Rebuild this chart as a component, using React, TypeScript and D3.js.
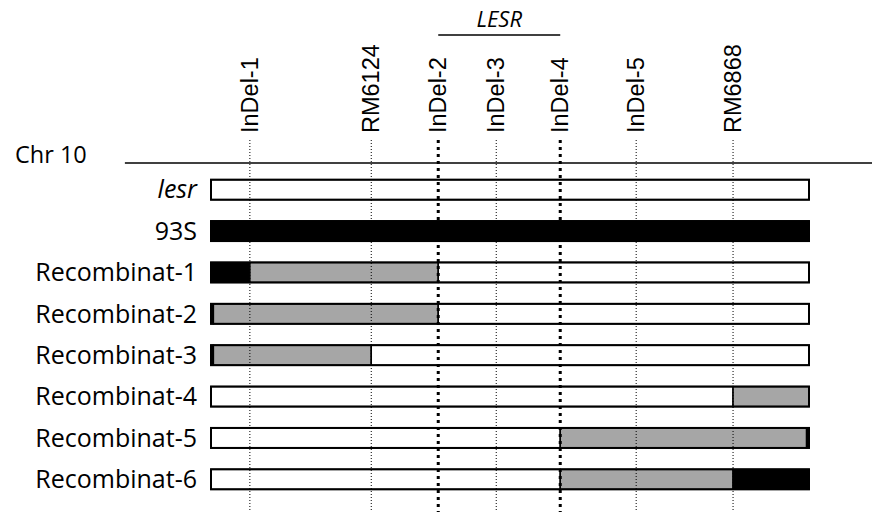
import React from "react";
import * as d3 from "d3";

const markers = ["InDel-1", "RM6124", "InDel-2", "InDel-3", "InDel-4", "InDel-5", "RM6868"];
const markerPos = [6.5, 26.8, 38.0, 47.7, 58.4, 71.1, 87.3];
const boldMarkers = ["InDel-2", "InDel-4"];
const rows = ["lesr", "93S", "Recombinat-1", "Recombinat-2", "Recombinat-3", "Recombinat-4", "Recombinat-5", "Recombinat-6"];
// segment starts per row (chromosome units) and genotype: w = lesr, b = 93S, g = heterozygous
const segStarts = [
  [0],
  [0],
  [0, 6.5, 38.0],
  [0, 0.4, 38.0],
  [0, 0.4, 26.8],
  [0, 87.3],
  [0, 58.4, 99.6],
  [0, 58.4, 87.3],
];
const segTypes = [
  ["w"],
  ["b"],
  ["b", "g", "w"],
  ["b", "g", "w"],
  ["b", "g", "w"],
  ["w", "g"],
  ["w", "g", "b"],
  ["w", "g", "b"],
];
const lesrRegion = ["InDel-2", "InDel-4"];

const W = 872, H = 512;
const x = d3.scaleLinear().domain([0, 100]).range([211, 809]);
const y = d3.scaleBand().domain(rows).range([169, 500]).paddingInner(0.5).paddingOuter(0.25);
const fillOf: Record<string, string> = { w: "#ffffff", b: "#000000", g: "#a6a6a6" };
const FONT = "'Open Sans', sans-serif";
const MFONT = "'Liberation Sans', Arial, sans-serif";

export default function App() {
  const bh = 20;
  const posOf = (m: string) => markerPos[markers.indexOf(m)];
  return (
    <svg width={W} height={H} style={{ position: "absolute", left: 0, top: 0, background: "#fff" }} fontFamily={FONT}>
      {rows.map((r, i) => {
        const cy = (y(r) as number) + y.bandwidth() / 2;
        const starts = segStarts[i];
        return (
          <g key={r}>
            {starts.map((s, j) => {
              const e = j + 1 < starts.length ? starts[j + 1] : 100;
              return (
                <rect key={j} x={x(s)} y={cy - bh / 2} width={x(e) - x(s)} height={bh}
                  fill={fillOf[segTypes[i][j]]} stroke="#000" strokeWidth={1.5} />
              );
            })}
            <rect x={x(0)} y={cy - bh / 2} width={x(100) - x(0)} height={bh} fill="none" stroke="#000" strokeWidth={2} />
            <text x={197} y={cy} dy="0.35em" textAnchor="end" fontSize={25} fontStyle={r === "lesr" ? "italic" : "normal"}>{r}</text>
          </g>
        );
      })}
      <line x1={x(-14.4)} x2={W} y1={163} y2={163} stroke="#000" strokeWidth={1.5} />
      <text x={15} y={163} fontSize={23.5}>Chr 10</text>
      {markers.map((m, i) => {
        const bold = boldMarkers.includes(m);
        const px = x(markerPos[i]);
        return (
          <g key={m}>
            <line x1={px} x2={px} y1={140} y2={H} stroke="#000"
              strokeWidth={bold ? 3 : 1} strokeDasharray={bold ? "3 4" : "1 2"} />
            <text transform={`translate(${px},133) rotate(-90)`} dy="0.35em" fontSize={23.5} fontFamily={MFONT}>{m}</text>
          </g>
        );
      })}
      <line x1={x(posOf(lesrRegion[0]))} x2={x(posOf(lesrRegion[1]))} y1={35} y2={35} stroke="#000" strokeWidth={1.5} />
      <text x={(x(posOf(lesrRegion[0])) + x(posOf(lesrRegion[1]))) / 2} y={27} textAnchor="middle" fontSize={22} fontStyle="italic">LESR</text>
    </svg>
  );
}
